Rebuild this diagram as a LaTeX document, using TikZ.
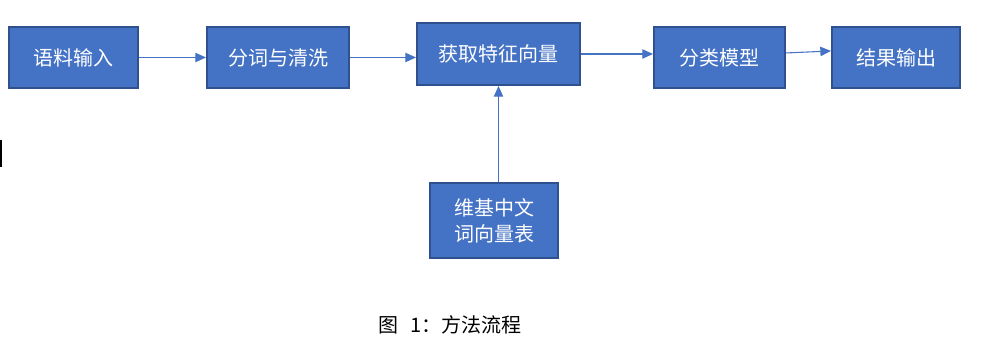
\documentclass[tikz,border=0pt]{standalone}
\usepackage{fontspec}
\newfontfamily\cjk{Noto Sans CJK SC}
\usepackage{xcolor}
\usetikzlibrary{arrows.meta, positioning, calc}

\definecolor{boxblue}{HTML}{4472C4}
\definecolor{edgeblue}{HTML}{2F528F}

\begin{document}
\begin{tikzpicture}[x=0.75pt, y=-0.75pt,
    blk/.style={draw=edgeblue, line width=1.5pt, fill=boxblue, rectangle, text=white, align=center,
        font=\cjk\fontsize{15}{19.5}\selectfont, inner sep=0pt},
    flow/.style={draw=boxblue, line width=0.8pt, -{Triangle[length=8pt, width=7pt]}}]
    \useasboundingbox (0,0) rectangle (1005,352);

    % Blocks
    \node[blk, minimum width=96.75pt, minimum height=45.75pt] (Corpus) at (73.5,57.5) {语料输入};
    \node[blk, minimum width=106.5pt, minimum height=45.75pt] (Seg) at (278,57.5) {分词与清洗};
    \node[blk, minimum width=122.25pt, minimum height=46.5pt] (Feat) at (498.5,54) {获取特征向量};
    \node[blk, minimum width=98.25pt, minimum height=45.75pt] (Cls) at (719.5,57.5) {分类模型};
    \node[blk, minimum width=96pt, minimum height=45.75pt] (Out) at (896,57.5) {结果输出};
    \node[blk, minimum width=96pt, minimum height=56.25pt] (Wiki) at (494,220.5) {维基中文\\词向量表};

    % Caption
    \node[font=\cjk\fontsize{15}{17}\selectfont, text=black] (Cap) at (450,325) {图\hspace{0.6em}1：方法流程};

    % Cursor mark at left edge
    \draw[line width=1.5pt] (1,140) -- (1,167);

    % Flow arrows
    \draw[flow] (Corpus.east) -- (Seg.west);
    \draw[flow] (Seg.east) -- (Seg.east -| Feat.west);
    \draw[flow] (Feat.east) -- (Feat.east -| Cls.west);
    \draw[flow] ([yshift=3.4pt]Cls.east) -- ([yshift=4.9pt]Out.west);
    \draw[flow] (Feat.south |- Wiki.north) -- (Feat.south);
\end{tikzpicture}
\end{document}
